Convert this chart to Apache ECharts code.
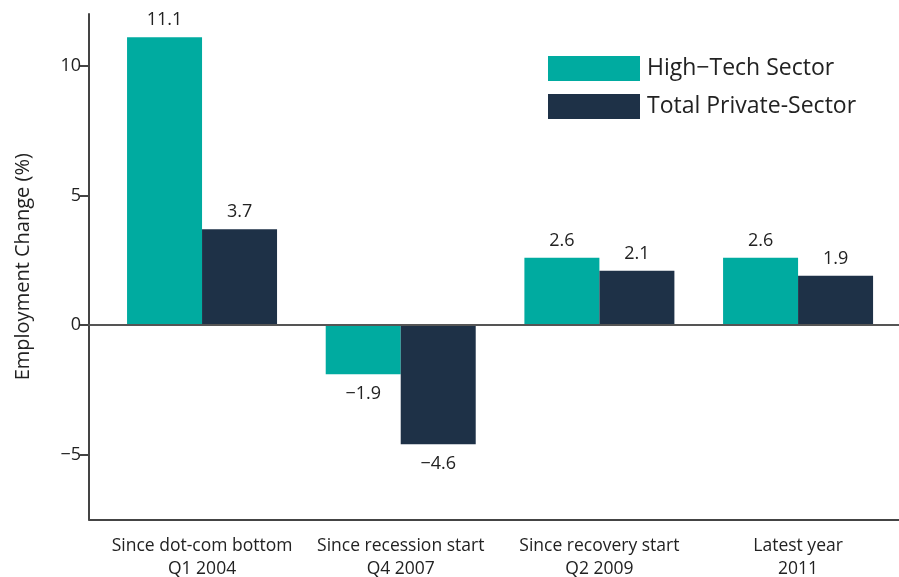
<!DOCTYPE html>
<html><head><meta charset="utf-8">
<script src="https://cdn.jsdelivr.net/npm/echarts@6/dist/echarts.min.js"></script>
<style>html,body{margin:0;padding:0;background:#fff}#c{width:899px;height:577px}</style>
</head><body><div id="c"></div>
<script>
const categories = ["Since dot-com bottom\nQ1 2004", "Since recession start\nQ4 2007", "Since recovery start\nQ2 2009", "Latest year\n2011"];
const highTech = [11.1, -1.9, 2.6, 2.6];
const totalPrivate = [3.7, -4.6, 2.1, 1.9];
const yTicks = [-5, 0, 5, 10];
const seriesNames = ["High\u2212Tech Sector", "Total Private-Sector"];

const X_MIN = -0.569, X_MAX = 3.508;
const font = '"Open Sans", "Noto Sans", sans-serif';
const fmt = v => String(v).replace('-', '\u2212');
const toData = arr => arr.map((v, i) => ({value: [i, v],
  label: v < 0 ? {position: 'bottom', distance: 11} : {position: 'top', distance: 8}}));
const lbl = () => ({show: true, fontFamily: font, fontSize: 18, color: '#222',
  formatter: p => fmt(p.value[1])});

const chart = echarts.init(document.getElementById('c'), null, {renderer: 'canvas'});
chart.setOption({
  animation: false,
  textStyle: {fontFamily: font},
  grid: {left: 89, right: 0, top: 14, bottom: 57.5, containLabel: false, outerBoundsMode: 'none'},
  legend: {
    orient: 'vertical', left: 543, top: 51, itemWidth: 92, itemHeight: 25, itemGap: 13,
    icon: 'rect', textStyle: {fontFamily: font, fontSize: 23, color: '#222', padding: [0, 0, 0, 2]},
    data: seriesNames
  },
  xAxis: [{
    type: 'value', min: X_MIN, max: X_MAX,
    axisLine: {onZero: false, lineStyle: {color: '#444', width: 2}},
    axisTick: {show: false}, splitLine: {show: false},
    axisLabel: {customValues: [0, 1, 2, 3], formatter: v => categories[Math.round(v)],
      fontFamily: font, fontSize: 17.5, color: '#222', lineHeight: 23, margin: 15}
  }, {
    type: 'value', min: X_MIN, max: X_MAX, position: 'bottom',
    axisLine: {show: true, onZero: true, lineStyle: {color: '#555', width: 2}},
    axisTick: {show: false}, axisLabel: {show: false}, splitLine: {show: false}, z: 3
  }],
  yAxis: {
    type: 'value', min: -7.5, max: 12,
    name: 'Employment Change (%)', nameLocation: 'middle', nameGap: 56,
    nameTextStyle: {fontFamily: font, fontSize: 20, color: '#222'},
    axisLine: {show: true, onZero: false, lineStyle: {color: '#444', width: 2}},
    axisTick: {show: true, customValues: yTicks, length: 9, lineStyle: {color: '#444', width: 2}},
    axisLabel: {customValues: yTicks, formatter: v => fmt(v), fontFamily: font, fontSize: 18, color: '#222', margin: 8},
    splitLine: {show: false}
  },
  series: [
    {name: seriesNames[0], type: 'bar', xAxisIndex: 0, data: toData(highTech), barWidth: 75, barGap: '0%',
      itemStyle: {color: '#00ABA0'}, label: lbl()},
    {name: seriesNames[1], type: 'bar', xAxisIndex: 0, data: toData(totalPrivate), barWidth: 75, barGap: '0%',
      itemStyle: {color: '#1E3147'}, label: lbl()}
  ]
});
</script></body></html>
